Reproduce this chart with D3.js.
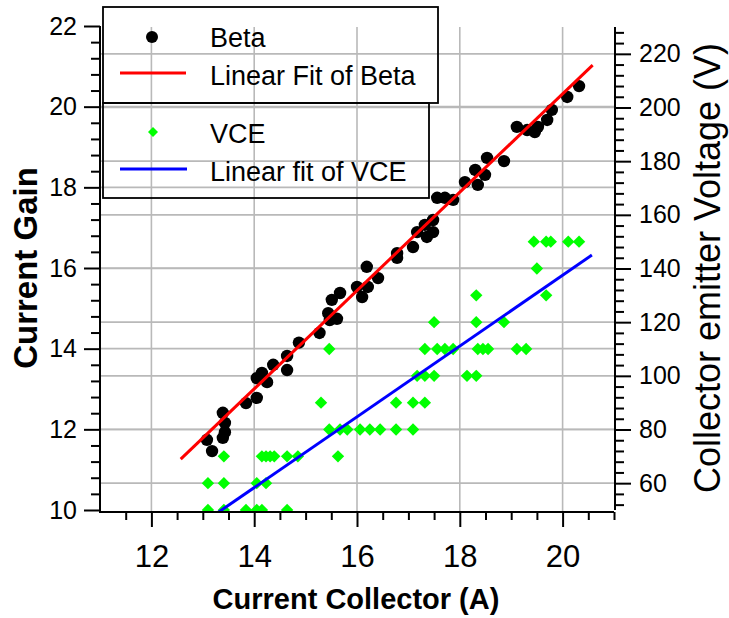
<!DOCTYPE html>
<html><head><meta charset="utf-8">
<script src="https://cdn.jsdelivr.net/npm/d3@7"></script>
<style>
body{margin:0;background:#fff}
svg{display:block}
text{font-family:"Liberation Sans",Arial,sans-serif;fill:#000}
</style>
</head><body>
<svg id="c" width="729" height="618"></svg>
<script>
// ---- data ----
const betaX = [13.08,13.18,13.39,13.43,13.43,13.39,13.84,14.05,14.25,14.05,14.15,14.37,14.64,14.64,14.87,15.27,15.47,15.61,15.44,15.51,15.67,16.00,16.10,16.19,16.21,16.41,16.78,16.78,17.09,17.17,17.36,17.48,17.32,17.48,17.56,17.71,17.87,18.10,18.30,18.35,18.49,18.53,18.86,19.11,19.31,19.46,19.52,19.70,19.79,20.09,20.32];
const betaY = [11.74,11.46,12.41,12.16,11.93,11.79,12.65,12.78,13.17,13.27,13.40,13.60,13.47,13.82,14.15,14.39,14.71,14.74,14.88,15.21,15.38,15.53,15.28,16.03,15.53,15.75,16.37,16.25,16.52,16.89,16.77,16.89,17.07,17.19,17.74,17.74,17.69,18.13,18.43,18.06,18.31,18.73,18.65,19.50,19.42,19.37,19.50,19.67,19.92,20.24,20.51];

const vceX = [19.44,19.68,19.77,20.11,20.32,
  19.50,
  18.32,19.68,
  17.50,18.32,18.86,
  15.46,17.32,17.56,17.71,17.87,18.35,18.45,18.55,19.11,19.29,
  17.17,17.32,17.50,18.14,18.32,
  15.30,16.76,17.09,17.32,
  15.46,15.67,15.81,16.06,16.25,16.45,16.76,17.09,
  13.41,14.15,14.23,14.31,14.39,14.64,14.85,15.63,
  13.10,13.41,14.05,14.23,
  13.10,13.41,13.84,14.05,14.15,14.64];
const vceY = [150,150,150,150,150,
  140,
  130,130,
  120,120,120,
  110,110,110,110,110,110,110,110,110,110,
  100,100,100,100,100,
  90,90,90,90,
  80,80,80,80,80,80,80,80,
  70,70,70,70,70,70,70,70,
  60,60,60,60,
  50,50,50,50,50,50];

const betaFitX = [12.57, 20.585];
const betaFitY = [11.26, 21.03];
const vceFitX = [12.57, 20.57];
const vceFitY = [39.5, 145.0];

const xTicks = [12,14,16,18,20];
const yLeftTicks = [10,12,14,16,18,20,22];
const yRightTicks = [60,80,100,120,140,160,180,200,220];
const legendLabels = ["Beta","Linear Fit of Beta","VCE","Linear fit of VCE"];
const xTitle = "Current Collector (A)";
const yLeftTitle = "Current Gain";
const yRightTitle = "Collector emitter Voltage (V)";

// ---- chart ----
const svg = d3.select("#c");
const x = d3.scaleLinear([11,21],[100,614]);
const yL = d3.scaleLinear([10,22],[510,26]);
const yR = d3.scaleLinear([50,230],[510,27]);
const gridColor = "#b9b9b9";

// grid
const grid = svg.append("g").attr("stroke",gridColor).attr("stroke-width",1.6);
xTicks.forEach(t=>grid.append("line").attr("x1",x(t)).attr("x2",x(t)).attr("y1",27).attr("y2",511));
yLeftTicks.filter(t=>t>10 && t<22).forEach(t=>grid.append("line").attr("x1",100).attr("x2",615).attr("y1",yL(t)).attr("y2",yL(t)));
yRightTicks.forEach(t=>grid.append("line").attr("x1",100).attr("x2",615).attr("y1",yR(t)).attr("y2",yR(t)));

// clip
svg.append("clipPath").attr("id","clip").append("rect").attr("x",100).attr("y",26).attr("width",515).attr("height",485);
const plot = svg.append("g").attr("clip-path","url(#clip)");

const diamond = s => `M0,${-s}L${s},0L0,${s}L${-s},0Z`;

// VCE points
plot.append("g").selectAll("path").data(vceX.map((v,i)=>[v,vceY[i]])).join("path")
  .attr("d",diamond(6.2)).attr("fill","#00ff00")
  .attr("transform",d=>`translate(${x(d[0])},${yR(d[1])})`);

// Beta points
plot.append("g").selectAll("circle").data(betaX.map((v,i)=>[v,betaY[i]])).join("circle")
  .attr("cx",d=>x(d[0])).attr("cy",d=>yL(d[1])).attr("r",6.2).attr("fill","#000");

// fit lines
plot.append("line").attr("x1",x(betaFitX[0])).attr("y1",yL(betaFitY[0])).attr("x2",x(betaFitX[1])).attr("y2",yL(betaFitY[1]))
  .attr("stroke","#ff0000").attr("stroke-width",3);
plot.append("line").attr("x1",x(vceFitX[0])).attr("y1",yR(vceFitY[0])).attr("x2",x(vceFitX[1])).attr("y2",yR(vceFitY[1]))
  .attr("stroke","#0000ff").attr("stroke-width",3);

// axes
function styleAxis(g){
  g.select(".domain").remove();
  g.selectAll(".tick line").attr("stroke","#000").attr("stroke-width",2);
}
const minorX = d3.range(11.5,21.01,0.5).filter(v=>!xTicks.includes(v));
svg.append("g").attr("transform","translate(0,512)")
  .call(d3.axisBottom(x).tickValues(minorX).tickSize(8).tickFormat(""))
  .call(styleAxis);
svg.append("g").attr("transform","translate(0,512)")
  .call(d3.axisBottom(x).tickValues(xTicks).tickSize(15).tickPadding(18).tickFormat(d3.format("d")))
  .call(styleAxis)
  .call(g=>g.selectAll("text").attr("font-size",31).attr("fill","#000"));

const minorL = d3.range(10,22.001,0.4).map(v=>+v.toFixed(1)).filter(v=>!yLeftTicks.includes(v));
svg.append("g").attr("transform","translate(100,0)")
  .call(d3.axisLeft(yL).tickValues(minorL).tickSize(9).tickFormat(""))
  .call(styleAxis);
svg.append("g").attr("transform","translate(100,0)")
  .call(d3.axisLeft(yL).tickValues(yLeftTicks).tickSize(16).tickPadding(7).tickFormat(d3.format("d")))
  .call(styleAxis)
  .call(g=>g.selectAll("text").attr("font-size",25).attr("fill","#000"));

const minorR = d3.range(52,229,4).filter(v=>!yRightTicks.includes(v));
svg.append("g").attr("transform","translate(615,0)")
  .call(d3.axisRight(yR).tickValues(minorR).tickSize(9).tickFormat(""))
  .call(styleAxis);
svg.append("g").attr("transform","translate(615,0)")
  .call(d3.axisRight(yR).tickValues(yRightTicks).tickSize(16).tickPadding(8).tickFormat(d3.format("d")))
  .call(styleAxis)
  .call(g=>g.selectAll("text").attr("font-size",25).attr("fill","#000"));

// axis lines
const ax = svg.append("g").attr("stroke","#000").attr("stroke-width",2);
ax.append("line").attr("x1",100).attr("x2",100).attr("y1",yL(22)).attr("y2",513);
ax.append("line").attr("x1",99).attr("x2",614).attr("y1",512).attr("y2",512);
ax.append("line").attr("x1",615).attr("x2",615).attr("y1",yR(230)).attr("y2",510);

// titles
svg.append("text").attr("x",356).attr("y",609).attr("text-anchor","middle")
  .attr("font-size",29).attr("font-weight","bold").text(xTitle);
svg.append("text").attr("transform","translate(37,268) rotate(-90)").attr("text-anchor","middle")
  .attr("font-size",33).attr("font-weight","bold").text(yLeftTitle);
svg.append("text").attr("transform","translate(720,268) rotate(-90)").attr("text-anchor","middle")
  .attr("font-size",36).text(yRightTitle);

// legend
const lg = svg.append("g");
lg.append("rect").attr("x",103).attr("y",7).attr("width",335).attr("height",96)
  .attr("fill","none").attr("stroke","#000").attr("stroke-width",1.8);
lg.append("rect").attr("x",103).attr("y",103).attr("width",326).attr("height",95)
  .attr("fill","none").attr("stroke","#000").attr("stroke-width",1.8);
lg.append("circle").attr("cx",152).attr("cy",37).attr("r",6).attr("fill","#000");
lg.append("line").attr("x1",120).attr("x2",186).attr("y1",73).attr("y2",73).attr("stroke","#ff0000").attr("stroke-width",3);
lg.append("path").attr("d",diamond(5)).attr("fill","#00ff00").attr("transform","translate(153,132)");
lg.append("line").attr("x1",120).attr("x2",187).attr("y1",169).attr("y2",169).attr("stroke","#0000ff").attr("stroke-width",3);
const lgY = [47,85,143,181];
legendLabels.forEach((t,i)=>lg.append("text").attr("x",210).attr("y",lgY[i]).attr("font-size",27).text(t));
</script>
</body></html>
